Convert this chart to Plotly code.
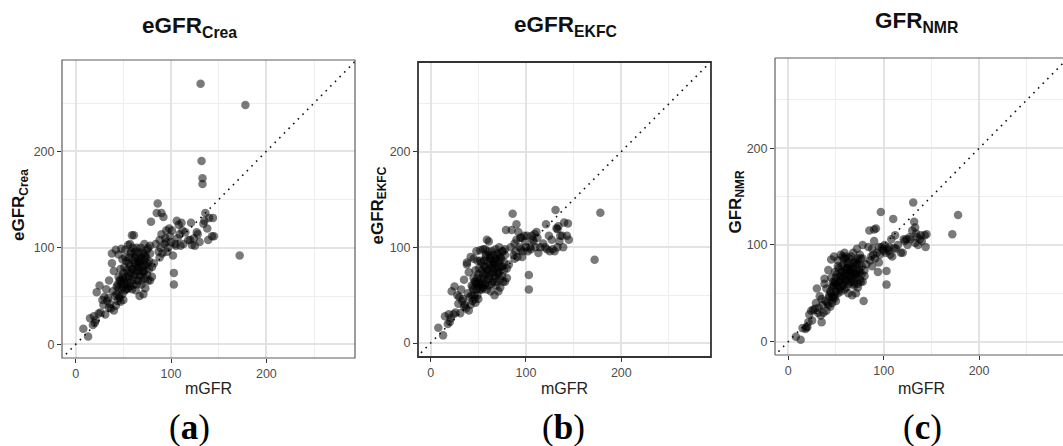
import plotly.graph_objects as go

# ---------------- data ----------------
mGFR = [
    8, 13, 15, 18, 19, 20, 21, 22, 24, 25, 26, 28, 29, 30, 31, 32, 33, 34, 35, 35,
    36, 37, 38, 38, 39, 40, 40, 41, 42, 42, 43, 44, 44, 45, 45, 46, 46, 47, 47, 48, 48, 48, 49, 49, 50, 50, 50,
    51, 51, 52, 52, 53, 53, 54, 54, 55, 55, 56, 56, 57, 57, 58, 58, 59, 59, 60, 60, 60, 61, 61, 62, 62, 63, 63, 64, 64, 65, 65,
    66, 66, 67, 67, 68, 68, 69, 69, 70, 70, 71, 71, 72, 72, 73, 73, 74, 75, 75, 76, 77, 78, 78, 79, 80, 80,
    82, 84, 85, 86, 87, 88, 88, 89, 90, 90, 91, 92, 93, 94, 95, 95, 96, 97, 98, 99, 100,
    101, 102, 103, 103, 104, 105, 106, 107, 108, 109, 110, 111, 112, 113, 115, 118, 120, 121, 122, 124, 125, 127, 128, 130,
    131, 132, 133, 133, 134, 135, 136, 138, 139, 140, 143, 144, 145, 172, 178,
    43, 45, 47, 49, 50, 52, 54, 55, 56, 57, 58, 59, 60, 61, 62, 63, 64, 65, 66, 67, 68, 69, 70, 71, 72, 73, 74, 75, 76, 77, 78, 46, 53, 57, 62, 67, 72,
]
eGFR_crea = [
    16, 8, 27, 20, 29, 22, 25, 54, 32, 61, 33, 46, 41, 49, 31, 57, 45, 48, 38, 66,
    42, 37, 84, 94, 55, 76, 35, 50, 98, 40, 60, 45, 62, 70, 93, 48, 66, 44, 78, 57, 99, 63, 52, 88, 67, 59, 74,
    64, 80, 56, 98, 62, 86, 66, 77, 58, 103, 70, 90, 60, 82, 74, 96, 57, 113, 67, 87, 78, 113, 62, 84, 72, 92, 56, 100, 80, 66, 88,
    76, 95, 50, 84, 70, 100, 62, 90, 80, 96, 52, 74, 88, 104, 68, 92, 82, 72, 98, 66, 86, 94, 102, 127, 70, 80,
    84, 104, 136, 146, 96, 90, 108, 100, 136, 114, 94, 132, 104, 110, 106, 118, 96, 100, 120, 112, 106,
    118, 92, 74, 62, 104, 102, 128, 110, 124, 114, 102, 126, 118, 104, 116, 108, 108, 126, 103, 110, 102, 116, 114, 106,
    270, 190, 172, 166, 125, 128, 136, 120, 108, 131, 112, 131, 112, 92, 248,
    52, 58, 66, 70, 46, 90, 58, 74, 84, 64, 94, 78, 100, 70, 90, 76, 62, 84, 80, 72, 88, 66, 76, 94, 82, 58, 90, 84, 100, 78, 66, 50, 70, 104, 96, 86, 76,
]
eGFR_ekfc = [
    16, 8, 28, 20, 30, 22, 26, 54, 30, 59, 32, 50, 41, 48, 31, 56, 44, 46, 38, 66,
    40, 36, 84, 82, 52, 74, 34, 48, 90, 40, 60, 44, 58, 68, 88, 46, 64, 42, 76, 56, 96, 62, 50, 86, 64, 58, 72,
    62, 78, 56, 97, 60, 84, 64, 76, 58, 98, 68, 86, 60, 80, 72, 92, 56, 108, 66, 84, 76, 106, 60, 82, 70, 90, 54, 96, 78, 64, 86,
    74, 92, 50, 82, 68, 98, 60, 88, 78, 94, 54, 72, 86, 100, 66, 90, 80, 70, 96, 64, 84, 92, 98, 118, 68, 78,
    82, 100, 118, 135, 92, 88, 104, 96, 124, 108, 90, 116, 100, 110, 98, 110, 90, 96, 112, 106, 100,
    112, 96, 71, 56, 100, 98, 112, 108, 106, 114, 100, 116, 110, 94, 100, 104, 100, 124, 98, 112, 96, 108, 98, 96,
    139, 120, 119, 100, 122, 106, 112, 112, 100, 126, 112, 125, 108, 87, 136,
    50, 56, 64, 68, 46, 86, 56, 72, 80, 62, 90, 76, 96, 68, 88, 74, 62, 82, 78, 70, 86, 64, 74, 92, 80, 58, 88, 80, 96, 76, 64, 50, 68, 98, 92, 84, 74,
]
GFR_nmr = [
    5, 2, 14, 13, 15, 15, 20, 28, 32, 22, 33, 34, 40, 55, 30, 35, 47, 27, 20, 44,
    38, 30, 60, 65, 42, 55, 32, 40, 74, 38, 48, 36, 52, 66, 85, 40, 56, 44, 62, 48, 88, 58, 46, 72, 60, 52, 66,
    58, 70, 50, 84, 56, 76, 62, 68, 52, 90, 64, 78, 58, 72, 66, 86, 54, 92, 62, 74, 70, 88, 56, 76, 64, 80, 50, 86, 72, 62, 78,
    68, 88, 48, 74, 62, 92, 58, 82, 70, 84, 50, 66, 80, 96, 60, 86, 74, 64, 90, 62, 78, 86, 100, 42, 68, 74,
    80, 98, 115, 84, 88, 78, 96, 90, 116, 104, 86, 117, 92, 72, 82, 98, 90, 134, 98, 96, 94,
    100, 92, 73, 59, 96, 94, 98, 90, 106, 88, 127, 97, 110, 96, 100, 92, 92, 106, 104, 106, 100, 108, 106, 115,
    144, 124, 118, 102, 112, 108, 100, 106, 110, 104, 110, 98, 111, 111, 131,
    46, 50, 58, 62, 42, 78, 54, 66, 72, 58, 80, 70, 86, 64, 76, 68, 60, 74, 70, 66, 76, 60, 68, 82, 72, 56, 80, 72, 86, 70, 62, 46, 62, 88, 82, 76, 70,
]
panel_titles = ["<b>eGFR<sub>Crea</sub></b>", "<b>eGFR<sub>EKFC</sub></b>", "<b>GFR<sub>NMR</sub></b>"]
panel_letters = ["(<b>a</b>)", "(<b>b</b>)", "(<b>c</b>)"]
x_label = "mGFR"
tick_vals = [0, 100, 200]
identity = [-20, 300]

# ---------------- layout geometry ----------------
W, H = 1063, 446
panels = [  # left, right, top, bottom in px ; x range ; y range
    dict(l=62, r=355, t=60, b=358, xr=[-14.4, 293.0], yr=[-14.2, 294.6], ytx=20, border="#5e5e5e", bw=1.2),
    dict(l=418, r=711, t=62, b=357, xr=[-13.3, 294.1], yr=[-14.6, 293.6], ytx=379, border="#333333", bw=1.8),
    dict(l=775, r=1063, t=58, b=355, xr=[-13.9, 288.0], yr=[-13.8, 293.4], ytx=736, border="#5e5e5e", bw=1.2),
]
title_x = [189, 565, 917]
title_y = [27, 26, 22]
letter_x = [189, 563, 922]
series = [eGFR_crea, eGFR_ekfc, GFR_nmr]

fig = go.Figure()
layout = dict(
    width=W, height=H, margin=dict(l=0, r=0, t=0, b=0),
    paper_bgcolor="white", plot_bgcolor="white", showlegend=False,
    font=dict(family="Liberation Sans, Arial, sans-serif", color="#222222"),
    annotations=[], shapes=[],
)

for i, p in enumerate(panels):
    n = "" if i == 0 else str(i + 1)
    xa, ya = "x" + n, "y" + n
    axis_common = dict(
        tickvals=tick_vals, ticks="outside", ticklen=4, tickwidth=1, tickcolor="#333333",
        tickfont=dict(size=12.5, color="#4D4D4D"),
        showgrid=True, gridcolor="#E3E3E3", gridwidth=1.6,
        minor=dict(dtick=50, tick0=0, showgrid=True, gridcolor="#EEEEEE", gridwidth=1.1, ticks=""),
        zeroline=False, showline=False, fixedrange=True,
    )
    layout["xaxis" + n] = dict(axis_common, domain=[p["l"] / W, p["r"] / W], range=p["xr"], anchor=ya)
    layout["yaxis" + n] = dict(axis_common, domain=[1 - p["b"] / H, 1 - p["t"] / H], range=p["yr"], anchor=xa)

    fig.add_trace(go.Scatter(
        x=identity, y=identity, mode="lines", xaxis=xa, yaxis=ya,
        line=dict(color="#111111", width=1.6, dash="1.6px,5px"), hoverinfo="skip",
    ))
    fig.add_trace(go.Scatter(
        x=mGFR, y=series[i], mode="markers", xaxis=xa, yaxis=ya,
        marker=dict(size=8.5, color="rgba(0,0,0,0.52)", line=dict(width=0)),
    ))

    # border
    if i < 2:
        layout["shapes"].append(dict(type="rect", xref=xa + " domain", yref=ya + " domain",
                                     x0=0, x1=1, y0=0, y1=1, line=dict(color=p["border"], width=p["bw"]),
                                     layer="above"))
    else:
        for (x0, y0, x1, y1) in [(0, 0, 0, 1), (0, 1, 1.02, 1), (0, 0, 1.02, 0)]:
            layout["shapes"].append(dict(type="line", xref=xa + " domain", yref=ya + " domain",
                                         x0=x0, x1=x1, y0=y0, y1=y1,
                                         line=dict(color=p["border"], width=p["bw"]), layer="above"))

    cx = (p["l"] + (p["l"] + 293)) / 2
    # panel title
    layout["annotations"].append(dict(text=panel_titles[i], x=title_x[i] / W, y=1 - title_y[i] / H,
                                      xref="paper", yref="paper", showarrow=False,
                                      xanchor="center", yanchor="middle",
                                      font=dict(size=22.5, color="#111111")))
    # y-axis title
    layout["annotations"].append(dict(text=panel_titles[i], x=p["ytx"] / W, y=1 - ((p["t"] + p["b"]) / 2 - 4) / H,
                                      xref="paper", yref="paper", showarrow=False, textangle=-90,
                                      xanchor="center", yanchor="middle",
                                      font=dict(size=17, color="#111111")))
    # x-axis title
    layout["annotations"].append(dict(text=x_label, x=cx / W, y=1 - 388 / H,
                                      xref="paper", yref="paper", showarrow=False,
                                      xanchor="center", yanchor="middle",
                                      font=dict(size=16, color="#222222")))
    # panel letter
    layout["annotations"].append(dict(text=panel_letters[i], x=letter_x[i] / W, y=1 - 427 / H,
                                      xref="paper", yref="paper", showarrow=False,
                                      xanchor="center", yanchor="middle",
                                      font=dict(size=35, color="#000000",
                                                family="Liberation Serif, Times New Roman, serif")))

fig.update_layout(**layout)
fig.write_html("out.html", config={"displayModeBar": False},
               post_script="document.body.style.margin='0';document.body.style.overflow='hidden';")
